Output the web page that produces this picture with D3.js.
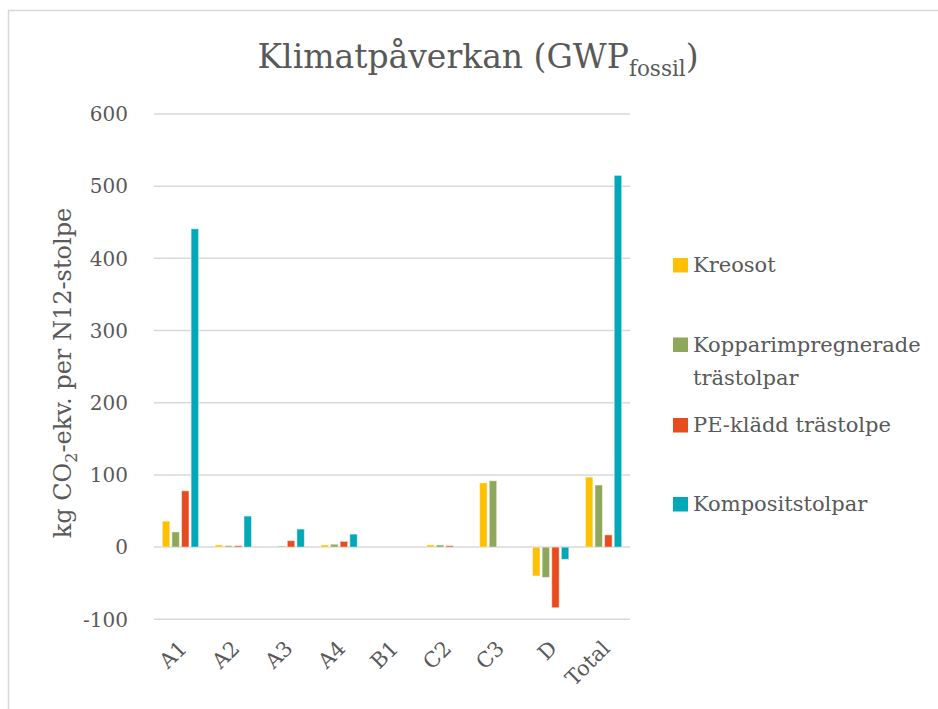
<!DOCTYPE html>
<html>
<head>
<meta charset="utf-8">
<script src="https://cdn.jsdelivr.net/npm/d3@7"></script>
<style>
  body { margin: 0; background: #fff; }
  svg { display: block; }
  text { font-family: "DejaVu Serif", serif; fill: #595959; }
</style>
</head>
<body>
<svg id="chart" width="938" height="709" font-family="DejaVu Serif, serif"></svg>
<script>
// categories (life cycle modules)
const categories = ["A1", "A2", "A3", "A4", "B1", "C2", "C3", "D", "Total"];
const seriesNames = ["Kreosot", "Kopparimpregnerade trästolpar", "PE-klädd trästolpe", "Kompositstolpar"];

// values per series, kg CO2-ekv. per N12-stolpe
const kreosot = [36, 3, 0, 3, 0, 3, 89, -40, 97];
const koppar = [21, 2, 1.5, 4, 0, 3, 92, -42, 86];
const peKladd = [78, 2, 9, 8, 0, 2, 0, -84, 17];
const komposit = [441, 43, 25, 18, 0, 0, 0, -17, 515];

const yTicks = [-100, 0, 100, 200, 300, 400, 500, 600];
const colors = ["#FFC000", "#8EA75B", "#E84C1E", "#00A8B8"];

const seriesValues = [kreosot, koppar, peKladd, komposit];

const svg = d3.select("#chart");

// outer chart border
svg.append("rect")
  .attr("x", 8.5).attr("y", 10.5)
  .attr("width", 1000).attr("height", 1000)
  .attr("fill", "none")
  .attr("stroke", "#d9d9d9")
  .attr("stroke-width", 1.5);

const x0 = d3.scaleBand().domain(categories).range([154, 630]).padding(0);
const x1 = d3.scaleBand().domain(d3.range(4))
  .range([8.3, x0.bandwidth() - 8.3])
  .paddingInner(0.22);
const y = d3.scaleLinear().domain([-100, 600]).range([619.3, 114]);

// gridlines
svg.append("g")
  .selectAll("line")
  .data(yTicks)
  .enter()
  .append("line")
  .attr("x1", 154).attr("x2", 630)
  .attr("y1", (d) => y(d)).attr("y2", (d) => y(d))
  .attr("stroke", "#d9d9d9")
  .attr("stroke-width", 1.5);

// y tick labels
svg.append("g")
  .selectAll("text")
  .data(yTicks)
  .enter()
  .append("text")
  .attr("x", 128)
  .attr("y", (d) => y(d))
  .attr("dy", "0.36em")
  .attr("text-anchor", "end")
  .attr("font-size", 20)
  .text((d) => d);

// bars
const groups = svg.append("g")
  .selectAll("g")
  .data(categories)
  .enter()
  .append("g")
  .attr("transform", (d) => `translate(${x0(d)},0)`);

groups.selectAll("rect")
  .data((d, i) => seriesValues.map((vals, s) => ({ s, v: vals[i] })))
  .enter()
  .append("rect")
  .filter((d) => d.v !== 0)
  .attr("x", (d) => x1(d.s))
  .attr("width", x1.bandwidth())
  .attr("y", (d) => y(Math.max(0, d.v)))
  .attr("height", (d) => Math.abs(y(d.v) - y(0)))
  .attr("fill", (d) => colors[d.s])
  .attr("stroke", "rgba(255,255,255,0.5)")
  .attr("stroke-width", 1);

// x labels, rotated
svg.append("g")
  .selectAll("text")
  .data(categories)
  .enter()
  .append("text")
  .attr("transform", (d) => `translate(${x0(d) + x0.bandwidth() / 2 - 3},${639}) rotate(-45)`)
  .attr("text-anchor", "end")
  .attr("dy", "0.72em")
  .attr("font-size", 21)
  .text((d) => d);

// title
const title = svg.append("text")
  .attr("x", 478)
  .attr("y", 68)
  .attr("text-anchor", "middle")
  .attr("font-size", 33);
title.append("tspan").text("Klimatpåverkan (GWP");
title.append("tspan").attr("font-size", 21.5).attr("dy", 8).text("fossil");
title.append("tspan").attr("dy", -8).text(")");

// y axis title
const yTitle = svg.append("text")
  .attr("transform", "translate(71,373) rotate(-90)")
  .attr("text-anchor", "middle")
  .attr("font-size", 24);
yTitle.append("tspan").text("kg CO");
yTitle.append("tspan").attr("font-size", 16).attr("dy", 6).text("2");
yTitle.append("tspan").attr("dy", -6).text("-ekv. per N12-stolpe");

// legend
const legendItems = [
  { lines: ["Kreosot"], y: 265 },
  { lines: ["Kopparimpregnerade", "trästolpar"], y: 344.5 },
  { lines: ["PE-klädd trästolpe"], y: 425 },
  { lines: ["Kompositstolpar"], y: 504 },
];

const legend = svg.append("g");
legendItems.forEach((item, i) => {
  legend.append("rect")
    .attr("x", 673).attr("y", item.y - 7)
    .attr("width", 15).attr("height", 14.5)
    .attr("fill", colors[i]);
  const t = legend.append("text")
    .attr("x", 693)
    .attr("y", item.y + 7)
    .attr("font-size", 21);
  item.lines.forEach((line, j) => {
    t.append("tspan").attr("x", 693).attr("dy", j === 0 ? 0 : 33.5).text(line);
  });
});
</script>
</body>
</html>
